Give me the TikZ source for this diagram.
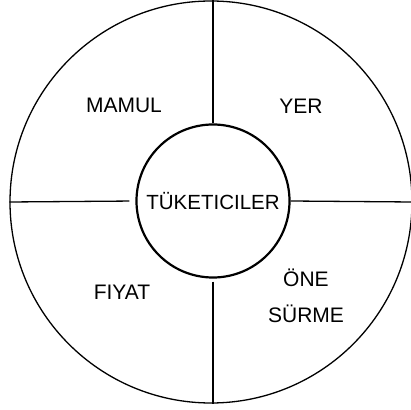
\documentclass[tikz,border=0pt]{standalone}
\usepackage{fontspec}
\setmainfont{Liberation Sans}
\begin{document}
\begin{tikzpicture}[x=1pt,y=1pt,
  ring/.style={circle, draw, line width=1.3pt, inner sep=0pt},
  hub/.style={circle, draw, line width=2.2pt, inner sep=0pt},
  spoke/.style={line width=1.3pt},
  lbl/.style={font=\fontsize{21}{36}\selectfont}]
\useasboundingbox (0,0) rectangle (410,410);
\fill[white] (0,0) rectangle (410,410);
\node[ring, minimum size=402pt] (outer) at (211,208) {};
\node[hub, minimum size=153pt, font=\fontsize{20.5}{22}\selectfont] (hub) at (213,209) {TÜKETICILER};
\draw[spoke] (hub.north) -- (hub.north |- outer.north);
\draw[spoke, shorten <=3pt] (hub.south) -- (hub.south |- outer.south);
\draw[spoke, shorten >=6pt] (outer.west) -- (hub.west);
\draw[spoke] (hub.east) -- (outer.east);
\node[lbl] (mamul) at (124,305) {MAMUL};
\node[lbl] (yer) at (301,304) {YER};
\node[lbl] (fiyat) at (122,118) {FIYAT};
\node[lbl, align=center] (one) at (306,114) {ÖNE\\SÜRME};
\end{tikzpicture}
\end{document}
